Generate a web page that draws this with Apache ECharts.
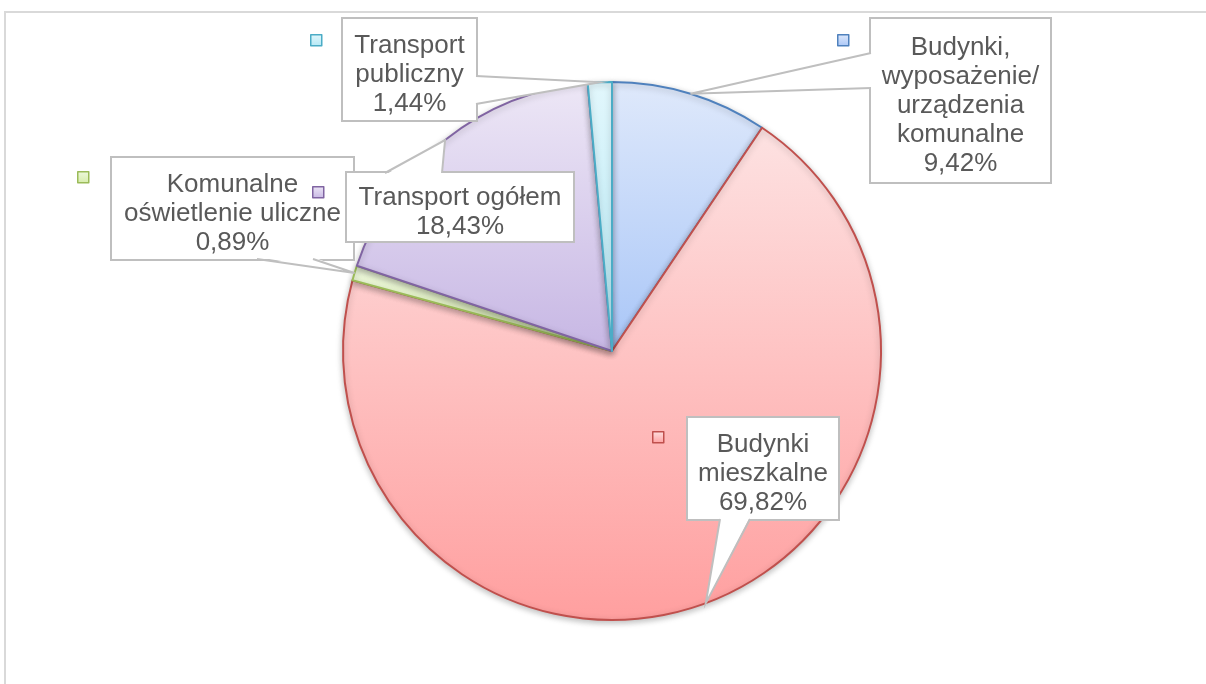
<!DOCTYPE html>
<html>
<head>
<meta charset="utf-8">
<script src="https://cdn.jsdelivr.net/npm/echarts@6/dist/echarts.min.js"></script>
<style>
	html, body { margin: 0; padding: 0; background: #fff; }
	#frame { position: absolute; left: 4px; top: 11px; width: 1202px; height: 673px;
		border-top: 2px solid #d9d9d9; border-left: 2px solid #d9d9d9; box-sizing: border-box; }
	#main { position: absolute; left: 0; top: 0; width: 1206px; height: 684px; }
</style>
</head>
<body>
<div id="frame"></div>
<div id="main"></div>
<script>
	// dane wykresu
	var names = [
		"Budynki, wyposażenie/ urządzenia komunalne",
		"Budynki mieszkalne",
		"Komunalne oświetlenie uliczne",
		"Transport ogółem",
		"Transport publiczny"
	];
	var values = [9.42, 69.82, 0.89, 18.43, 1.44];
	var labelLines = [
		["Budynki,", "wyposażenie/", "urządzenia", "komunalne"],
		["Budynki", "mieszkalne"],
		["Komunalne", "oświetlenie uliczne"],
		["Transport ogółem"],
		["Transport", "publiczny"]
	];

	// kolory (gradient góra -> dół, obramowanie)
	var topColors = ["#dfe9fb", "#fde2e2", "#eef8de", "#ede7f6", "#e2f7fc"];
	var bottomColors = ["#a9c6f7", "#ff9f9f", "#d6ecaa", "#c7b7e4", "#b4e8f5"];
	var borderColors = ["#4f81bd", "#c0504d", "#9bbb59", "#8064a2", "#4bacc6"];

	var CENTER = [612, 351];
	var RADIUS = 269;
	var LINE_H = 29;

	// ramki etykiet: [lewy x, górny y, szerokość, wysokość]
	var boxes = [
		[871, 19, 179, 163],
		[688, 418, 150, 101],
		[112, 158, 241, 101],
		[347, 173, 226, 68],
		[343, 19, 133, 101]
	];
	// podstawa "dzióbka" objaśnienia na krawędzi ramki: [x1, y1, x2, y2]
	var pointerBase = [
		[871, 53, 871, 88],
		[720, 519, 750, 519],
		[257, 259, 313, 259],
		[385, 173, 442, 173],
		[476, 76, 476, 104]
	];
	// kwadraciki legendy obok ramek
	var keys = [[843, 40], [658, 437], [83, 177], [318, 192], [316, 40]];

	function fmtValue(v) {
		return v.toFixed(2).replace(".", ",") + "%";
	}

	// punkt na obwodzie koła w połowie wycinka
	function sliceTips() {
		var total = values.reduce(function(a, b) { return a + b; }, 0);
		var acc = 0;
		return values.map(function(v) {
			var mid = (acc + v / 2) / total * Math.PI * 2;
			acc += v;
			return [CENTER[0] + RADIUS * Math.sin(mid), CENTER[1] - RADIUS * Math.cos(mid)];
		});
	}

	var data = names.map(function(name, i) {
		var nLines = labelLines[i].length + 1;
		var free = boxes[i][3] - nLines * LINE_H;
		var padTop = Math.round(free / 2) + 5;
		return {
			name: name,
			value: values[i],
			itemStyle: {
				color: {
					type: "linear", x: 0, y: 0, x2: 0, y2: 1,
					colorStops: [
						{offset: 0, color: topColors[i]},
						{offset: 1, color: bottomColors[i]}
					]
				},
				borderColor: borderColors[i]
			},
			label: {
				width: boxes[i][2] - 4,
				padding: [padTop, 2, Math.max(0, free - padTop), 2]
			}
		};
	});

	var legends = names.map(function(name, i) {
		return {
			data: [name],
			left: keys[i][0] - 6,
			top: keys[i][1] - 6,
			padding: 0,
			icon: "rect",
			itemWidth: 11,
			itemHeight: 11,
			selectedMode: false,
			formatter: function() { return ""; },
			itemStyle: {borderColor: borderColors[i], borderWidth: 1.5}
		};
	});

	// dzióbki objaśnień (biały trójkąt + dwie szare krawędzie)
	var tips = sliceTips();
	var pointers = [];
	pointerBase.forEach(function(b, i) {
		var t = tips[i];
		// lekko wsuń podstawę do ramki, by zakryć jej obramowanie
		var dx = b[0] === b[2] ? (t[0] < b[0] ? 2 : -2) : 0;
		var dy = b[1] === b[3] ? (t[1] < b[1] ? 2 : -2) : 0;
		pointers.push({
			type: "polygon",
			z: 100,
			silent: true,
			shape: {points: [[b[0] + dx, b[1] + dy], t, [b[2] + dx, b[3] + dy]]},
			style: {fill: "#fff", stroke: null}
		});
		pointers.push({
			type: "polyline",
			z: 101,
			silent: true,
			shape: {points: [[b[0], b[1]], t, [b[2], b[3]]]},
			style: {stroke: "#bfbfbf", lineWidth: 2, fill: null}
		});
	});

	var chart = echarts.init(document.getElementById("main"));
	chart.setOption({
		animation: false,
		legend: legends,
		graphic: pointers,
		series: [{
			type: "pie",
			center: CENTER,
			radius: RADIUS,
			startAngle: 90,
			clockwise: true,
			avoidLabelOverlap: false,
			itemStyle: {
				borderWidth: 2,
				shadowBlur: 6,
				shadowOffsetY: 2,
				shadowColor: "rgba(0,0,0,0.25)"
			},
			label: {
				show: true,
				position: "outside",
				formatter: function(p) {
					return labelLines[p.dataIndex].join("\n") + "\n" + fmtValue(p.value);
				},
				fontFamily: "Liberation Sans, Arial, sans-serif",
				fontSize: 26,
				lineHeight: LINE_H,
				color: "#595959",
				align: "center",
				backgroundColor: "#fff",
				borderColor: "#bfbfbf",
				borderWidth: 2
			},
			labelLine: {show: false},
			labelLayout: function(params) {
				var b = boxes[params.dataIndex];
				// lewy górny róg ramki (padding liczony od góry)
				return {
					x: b[0] + b[2] / 2,
					y: b[1],
					align: "center",
					verticalAlign: "top"
				};
			},
			data: data
		}]
	});
</script>
</body>
</html>
